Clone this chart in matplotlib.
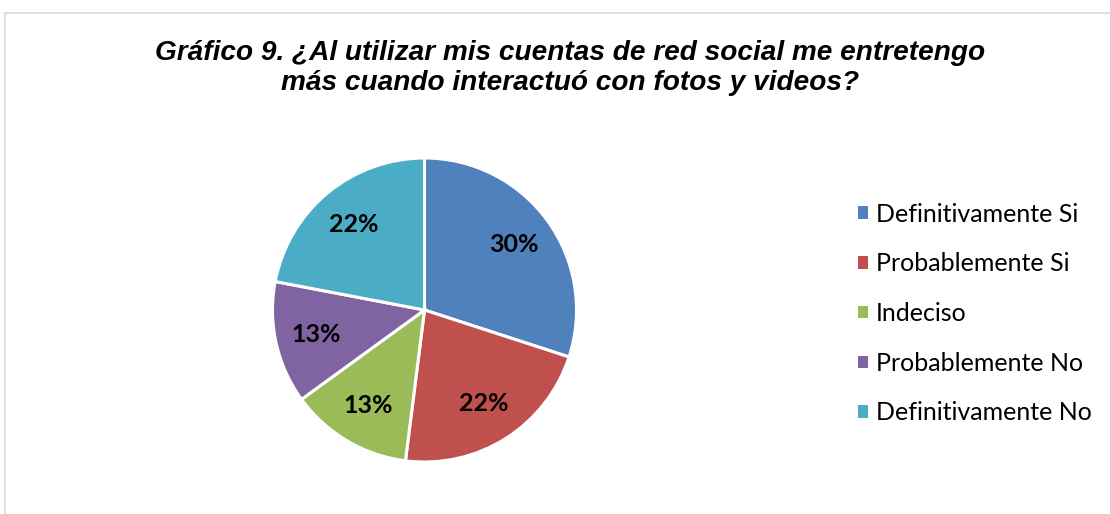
import matplotlib
matplotlib.use("Agg")
import matplotlib.pyplot as plt
from matplotlib.patches import Rectangle, Patch

categories = ["Definitivamente Si", "Probablemente Si", "Indeciso",
              "Probablemente No", "Definitivamente No"]
values = [30, 22, 13, 13, 22]
colors = ["#4F81BD", "#C0504D", "#9BBB59", "#8064A2", "#4BACC6"]
title = "Gráfico 9. ¿Al utilizar mis cuentas de red social me entretengo\nmás cuando interactuó con fotos y videos?"

W, H = 1110, 514
fig = plt.figure(figsize=(W / 100, H / 100), dpi=100)
fig.patch.set_facecolor("white")

# outer chart frame
fig.add_artist(Rectangle((5 / W, -0.05), 1.1, (H - 13) / H + 0.05,
                         transform=fig.transFigure, fill=False,
                         edgecolor="#D9D9D9", linewidth=1.2))

cx, cy, r = 424.5, 310, 152
ax = fig.add_axes([(cx - r) / W, (H - cy - r) / H, 2 * r / W, 2 * r / H])
wedges, texts, autotexts = ax.pie(
    values, colors=colors, startangle=90, counterclock=False,
    autopct=lambda p: f"{p:.0f}%", pctdistance=0.73,
    wedgeprops=dict(edgecolor="white", linewidth=2.2),
    textprops=dict(fontsize=18, fontweight="bold", color="black",
                   family=["Lato", "DejaVu Sans"]))
ax.set_xlim(-1.0, 1.0)
ax.set_ylim(-1.0, 1.0)
ax.set_aspect("equal")

fig.text(570 / W, 1 - 68 / H, title, ha="center", va="center",
         fontsize=20.2, fontweight="bold", fontstyle="italic",
         family=["Liberation Sans", "DejaVu Sans"], linespacing=1.2)

handles = [Patch(facecolor=c, edgecolor="none") for c in colors]
fig.legend(handles, categories, loc="upper left",
           bbox_to_anchor=(835 / W, 1 - 180 / H), frameon=False,
           handlelength=0.4, handleheight=0.4,
           handletextpad=0.35, labelspacing=1.07,
           prop=dict(family=["Lato", "DejaVu Sans"], size=18))

fig.savefig("out.png", dpi=100, facecolor="white")
